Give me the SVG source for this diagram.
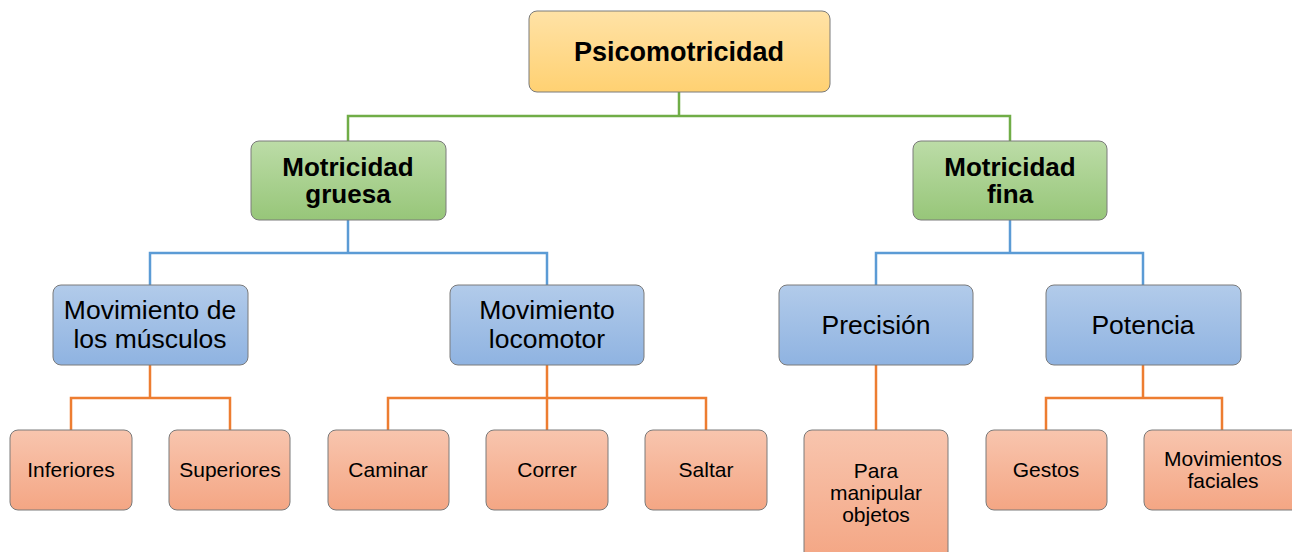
<svg xmlns="http://www.w3.org/2000/svg" width="1292" height="552" viewBox="0 0 1292 552">
<defs>
<linearGradient id="gY" x1="0" y1="0" x2="0" y2="1"><stop offset="0" stop-color="#ffe2a6"/><stop offset="1" stop-color="#ffd172"/></linearGradient>
<linearGradient id="gG" x1="0" y1="0" x2="0" y2="1"><stop offset="0" stop-color="#bcdca7"/><stop offset="1" stop-color="#97c679"/></linearGradient>
<linearGradient id="gB" x1="0" y1="0" x2="0" y2="1"><stop offset="0" stop-color="#b2cbea"/><stop offset="1" stop-color="#8fb3e1"/></linearGradient>
<linearGradient id="gO" x1="0" y1="0" x2="0" y2="1"><stop offset="0" stop-color="#f8c5ae"/><stop offset="1" stop-color="#f4a684"/></linearGradient>
</defs>
<style>
rect{stroke:#7a7a7a;stroke-width:1}
.y{fill:url(#gY)}.g{fill:url(#gG)}.b{fill:url(#gB)}.o{fill:url(#gO)}
text{font-family:"Liberation Sans",Arial,sans-serif;fill:#000;text-anchor:middle}
.t1{font-size:27px;font-weight:bold}
.t2{font-size:26px;font-weight:bold}
.t3{font-size:26.5px}
.t4{font-size:21px}
.cg{stroke:#70ad47}.cb{stroke:#5b9bd5}.co{stroke:#ed7d31}
#connectors path{fill:none;stroke-width:2.5}
</style>
<g id="connectors">
<path class="cg" d="M679 92V116M348 141V116H1010V141"/>
<path class="cb" d="M348 220V253M150 285V253H547V285"/>
<path class="cb" d="M1010 220V253M876 285V253H1143V285"/>
<path class="co" d="M150 365V398M71 430V398H230V430"/>
<path class="co" d="M547 365V430M388 430V398H706V430"/>
<path class="co" d="M876 365V430"/>
<path class="co" d="M1143 365V398M1046 430V398H1222V430"/>
</g>
<g id="n-root"><rect class="y" x="529" y="11" width="301" height="81" rx="8"/><text class="t1" x="679" y="61">Psicomotricidad</text></g>
<g id="n-gruesa"><rect class="g" x="251" y="141" width="195" height="79" rx="8"/><text class="t2" x="348" y="176">Motricidad</text><text class="t2" x="348" y="203">gruesa</text></g>
<g id="n-fina"><rect class="g" x="913" y="141" width="194" height="79" rx="8"/><text class="t2" x="1010" y="176">Motricidad</text><text class="t2" x="1010" y="203">fina</text></g>
<g id="n-musculos"><rect class="b" x="53" y="285" width="195" height="80" rx="8"/><text class="t3" x="150" y="319">Movimiento de</text><text class="t3" x="150" y="348">los músculos</text></g>
<g id="n-locomotor"><rect class="b" x="450" y="285" width="194" height="80" rx="8"/><text class="t3" x="547" y="319">Movimiento</text><text class="t3" x="547" y="348">locomotor</text></g>
<g id="n-precision"><rect class="b" x="779" y="285" width="194" height="80" rx="8"/><text class="t3" x="876" y="334">Precisión</text></g>
<g id="n-potencia"><rect class="b" x="1046" y="285" width="195" height="80" rx="8"/><text class="t3" x="1143" y="334">Potencia</text></g>
<g id="n-inferiores"><rect class="o" x="10" y="430" width="122" height="80" rx="8"/><text class="t4" x="71" y="477">Inferiores</text></g>
<g id="n-superiores"><rect class="o" x="169" y="430" width="121" height="80" rx="8"/><text class="t4" x="230" y="477">Superiores</text></g>
<g id="n-caminar"><rect class="o" x="328" y="430" width="121" height="80" rx="8"/><text class="t4" x="388" y="477">Caminar</text></g>
<g id="n-correr"><rect class="o" x="486" y="430" width="122" height="80" rx="8"/><text class="t4" x="547" y="477">Correr</text></g>
<g id="n-saltar"><rect class="o" x="645" y="430" width="122" height="80" rx="8"/><text class="t4" x="706" y="477">Saltar</text></g>
<g id="n-manipular"><rect class="o" x="804" y="430" width="144" height="130" rx="8"/><text class="t4" x="876" y="478">Para</text><text class="t4" x="876" y="500">manipular</text><text class="t4" x="876" y="522">objetos</text></g>
<g id="n-gestos"><rect class="o" x="986" y="430" width="121" height="80" rx="8"/><text class="t4" x="1046" y="477">Gestos</text></g>
<g id="n-faciales"><rect class="o" x="1144" y="430" width="156" height="80" rx="8"/><text class="t4" x="1223" y="466">Movimientos</text><text class="t4" x="1223" y="488">faciales</text></g>
</svg>
